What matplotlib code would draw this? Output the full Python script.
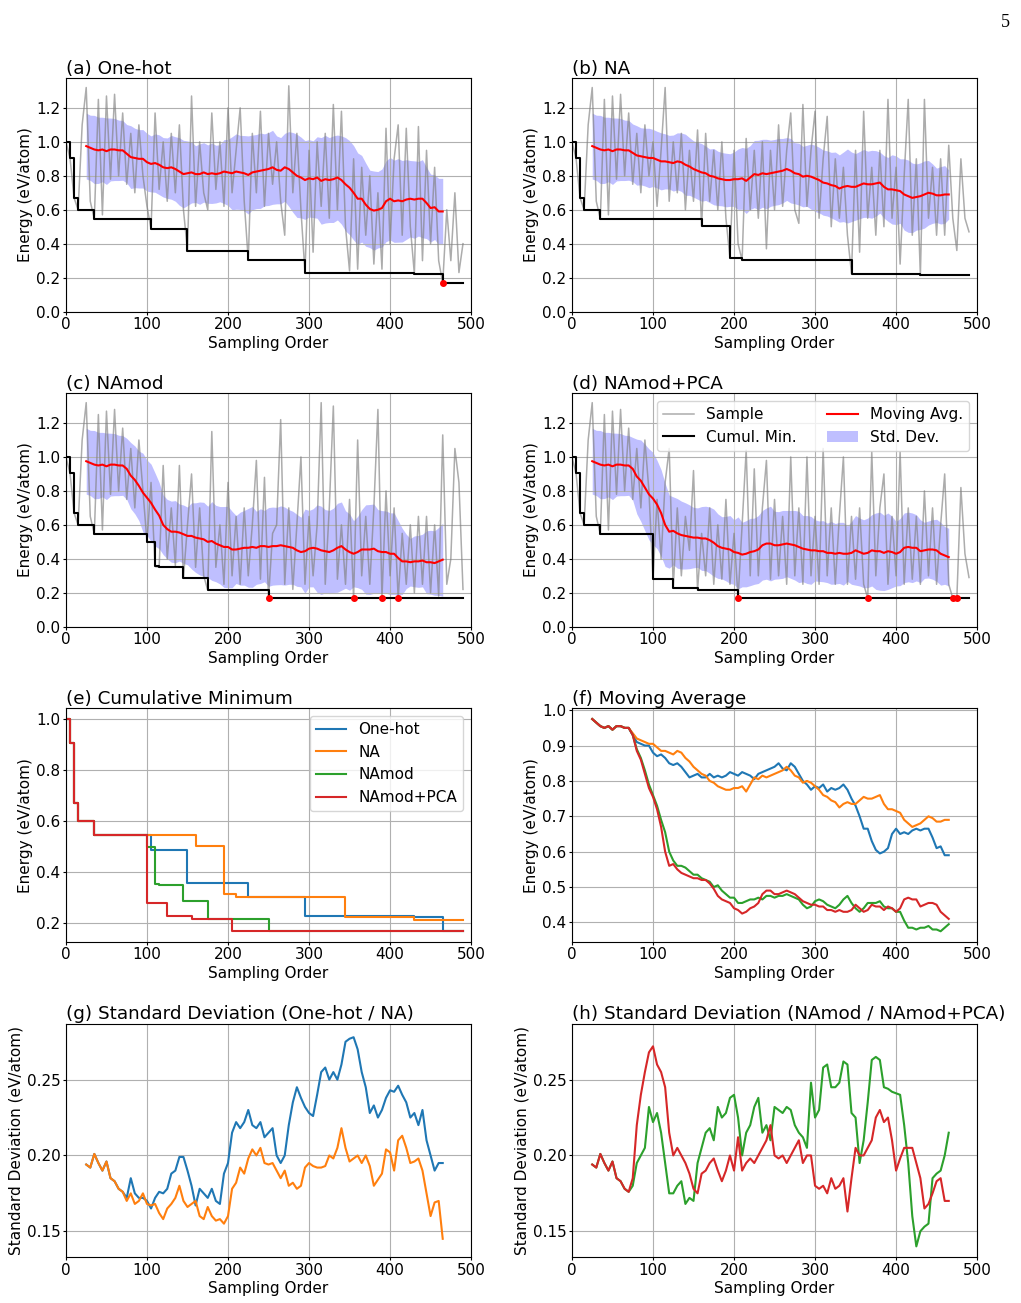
import numpy as np
import matplotlib.pyplot as plt

plt.rcParams['font.size'] = 11
plt.rcParams['xtick.major.size'] = 2
plt.rcParams['ytick.major.size'] = 2
plt.rcParams['xtick.major.pad'] = 2
plt.rcParams['ytick.major.pad'] = 2
plt.rcParams['axes.labelpad'] = 2.5
plt.rcParams['axes.titlepad'] = 3

methods = ['One-hot', 'NA', 'NAmod', 'NAmod+PCA']
colors = ['tab:blue', 'tab:orange', 'tab:green', 'tab:red']

# energies of the sampled structures, every 5th sample (eV/atom)
# the first 100 samples are the same initial design for every run
init_samples = [1.00, 0.905, 0.67, 0.60, 1.10, 1.32, 0.65, 0.545, 1.25, 0.57,
                1.27, 0.78, 1.28, 0.80, 1.17, 0.75, 1.05, 0.70, 1.10, 0.80]

samples_onehot = init_samples + [
    0.62, 0.487, 1.17, 0.72, 1.0, 0.65, 1.05, 0.70, 1.10, 0.60,
    0.358, 1.27, 0.62, 1.0, 0.70, 0.60, 1.17, 0.72, 1.0, 0.62,
    1.20, 0.70, 0.95, 1.20, 0.65, 0.302, 1.05, 0.70, 1.18, 0.62,
    1.05, 0.75, 1.0, 0.65, 0.45, 1.33, 0.70, 1.05, 0.60, 0.229,
    0.95, 0.35, 1.0, 0.62, 1.05, 0.55, 1.22, 0.60, 1.18, 0.50,
    0.24, 0.90, 0.25, 0.85, 0.45, 0.80, 0.28, 0.70, 0.25, 1.08,
    0.40, 0.90, 1.10, 0.45, 1.08, 0.50, 0.222, 1.09, 0.30, 0.95,
    0.40, 0.85, 0.30, 0.168, 0.60, 0.30, 0.70, 0.23, 0.40]

samples_na = init_samples + [
    1.0, 0.62, 0.95, 1.32, 0.65, 1.0, 0.70, 1.05, 0.60, 0.95,
    0.65, 1.07, 0.502, 1.05, 0.65, 0.95, 0.60, 1.0, 0.55, 0.315,
    0.95, 0.40, 0.302, 1.02, 0.60, 0.95, 0.55, 1.0, 0.37, 0.95,
    0.60, 1.10, 0.62, 0.95, 1.17, 0.60, 0.52, 1.22, 0.62, 0.95,
    1.18, 0.55, 0.90, 1.15, 0.50, 0.90, 0.55, 0.85, 0.45, 0.224,
    0.95, 0.35, 1.18, 0.55, 0.85, 0.45, 0.95, 0.50, 1.25, 0.55,
    0.85, 0.28, 0.80, 1.25, 0.45, 0.90, 0.213, 1.25, 0.55, 0.85,
    0.45, 0.90, 0.45, 0.98, 0.55, 0.36, 0.90, 0.55, 0.47]

samples_namod = init_samples + [
    0.50, 0.85, 0.355, 0.35, 0.95, 0.40, 0.70, 0.36, 0.95, 0.285,
    0.60, 0.90, 0.35, 0.70, 0.30, 0.215, 1.15, 0.35, 0.60, 0.25,
    0.85, 0.30, 0.65, 0.25, 0.70, 0.30, 0.60, 0.98, 0.28, 0.88,
    0.168, 0.55, 0.60, 1.22, 0.25, 0.70, 0.22, 0.60, 1.00, 0.25,
    0.65, 0.30, 0.60, 1.32, 0.25, 0.70, 1.30, 0.28, 0.60, 0.25,
    0.75, 0.168, 1.10, 0.30, 0.65, 0.25, 0.70, 1.28, 0.168, 0.80,
    0.30, 0.70, 0.168, 0.55, 0.25, 0.60, 0.20, 0.65, 0.25, 0.65,
    0.20, 0.60, 0.18, 1.13, 0.25, 0.40, 1.05, 0.85, 0.22]

samples_namod_pca = init_samples + [
    0.28, 0.75, 0.40, 0.85, 1.05, 0.228, 0.70, 0.30, 0.65, 0.45,
    0.92, 0.215, 0.55, 0.30, 0.70, 0.25, 0.60, 0.28, 0.75, 0.25,
    0.55, 0.168, 0.60, 1.04, 0.30, 0.93, 0.30, 0.70, 0.98, 0.28,
    0.75, 0.30, 0.65, 0.25, 1.00, 0.30, 0.70, 0.25, 1.00, 0.30,
    0.65, 0.25, 1.05, 0.30, 0.70, 0.25, 0.65, 1.00, 0.25, 0.65,
    0.28, 0.70, 0.25, 0.168, 1.03, 0.30, 0.70, 0.90, 0.25, 0.65,
    0.30, 1.03, 0.25, 0.70, 0.28, 0.65, 0.25, 0.80, 0.30, 0.70,
    0.25, 0.60, 0.90, 0.25, 0.168, 0.168, 0.82, 0.43, 0.29]

# 50-sample moving average, every 5th point from sample 25
ma_start = [0.975, 0.965, 0.955, 0.95, 0.955, 0.945, 0.955, 0.955, 0.95, 0.95]

ma_onehot = ma_start + [
    0.93, 0.91, 0.905, 0.90, 0.90, 0.88, 0.87, 0.875, 0.865, 0.85,
    0.845, 0.85, 0.84, 0.825, 0.81, 0.815, 0.82, 0.81, 0.81, 0.82,
    0.81, 0.815, 0.81, 0.815, 0.825, 0.82, 0.815, 0.825, 0.82, 0.815,
    0.805, 0.82, 0.825, 0.83, 0.835, 0.84, 0.85, 0.835, 0.83, 0.85,
    0.84, 0.82, 0.80, 0.79, 0.775, 0.785, 0.78, 0.79, 0.77, 0.78,
    0.775, 0.78, 0.79, 0.775, 0.75, 0.73, 0.70, 0.665, 0.665, 0.63,
    0.605, 0.595, 0.60, 0.61, 0.65, 0.665, 0.65, 0.655, 0.65, 0.66,
    0.665, 0.66, 0.665, 0.665, 0.64, 0.61, 0.615, 0.59, 0.59]

ma_na = ma_start + [
    0.935, 0.92, 0.915, 0.91, 0.905, 0.905, 0.895, 0.885, 0.885, 0.88,
    0.875, 0.885, 0.88, 0.865, 0.855, 0.84, 0.83, 0.82, 0.815, 0.80,
    0.795, 0.785, 0.78, 0.775, 0.775, 0.78, 0.78, 0.785, 0.77, 0.79,
    0.81, 0.805, 0.815, 0.81, 0.815, 0.82, 0.825, 0.83, 0.84, 0.83,
    0.815, 0.81, 0.795, 0.80, 0.795, 0.785, 0.775, 0.76, 0.755, 0.745,
    0.74, 0.725, 0.735, 0.74, 0.735, 0.735, 0.745, 0.755, 0.75, 0.75,
    0.755, 0.76, 0.735, 0.72, 0.72, 0.715, 0.71, 0.69, 0.68, 0.67,
    0.675, 0.68, 0.69, 0.70, 0.695, 0.685, 0.685, 0.69, 0.69]

ma_namod = ma_start + [
    0.93, 0.89, 0.865, 0.83, 0.79, 0.76, 0.73, 0.69, 0.655, 0.60,
    0.575, 0.56, 0.56, 0.555, 0.545, 0.535, 0.535, 0.525, 0.52, 0.515,
    0.50, 0.505, 0.49, 0.48, 0.47, 0.47, 0.455, 0.455, 0.46, 0.465,
    0.465, 0.47, 0.465, 0.475, 0.475, 0.47, 0.475, 0.475, 0.48, 0.475,
    0.47, 0.465, 0.45, 0.44, 0.445, 0.46, 0.465, 0.46, 0.45, 0.445,
    0.44, 0.45, 0.465, 0.475, 0.455, 0.44, 0.43, 0.44, 0.455, 0.455,
    0.455, 0.46, 0.445, 0.44, 0.44, 0.43, 0.43, 0.405, 0.385, 0.385,
    0.38, 0.385, 0.385, 0.39, 0.38, 0.38, 0.375, 0.385, 0.395]

ma_namod_pca = ma_start + [
    0.93, 0.885, 0.86, 0.82, 0.78, 0.755, 0.72, 0.67, 0.60, 0.56,
    0.565, 0.55, 0.54, 0.535, 0.53, 0.525, 0.525, 0.52, 0.52, 0.51,
    0.495, 0.475, 0.465, 0.46, 0.455, 0.44, 0.435, 0.425, 0.43, 0.44,
    0.445, 0.455, 0.48, 0.49, 0.49, 0.48, 0.48, 0.485, 0.49, 0.485,
    0.48, 0.47, 0.46, 0.455, 0.45, 0.45, 0.445, 0.445, 0.435, 0.435,
    0.43, 0.435, 0.43, 0.43, 0.435, 0.45, 0.44, 0.43, 0.435, 0.45,
    0.445, 0.445, 0.435, 0.445, 0.44, 0.43, 0.44, 0.465, 0.47, 0.465,
    0.465, 0.445, 0.45, 0.455, 0.455, 0.45, 0.43, 0.42, 0.41]

# 50-sample moving standard deviation, same points
sd_start = [0.194, 0.192, 0.201, 0.195, 0.19, 0.196, 0.185, 0.183, 0.178, 0.176]

sd_onehot = sd_start + [
    0.172, 0.185, 0.175, 0.172, 0.172, 0.17, 0.165, 0.172, 0.176, 0.175,
    0.178, 0.188, 0.19, 0.199, 0.199, 0.19, 0.18, 0.167, 0.178, 0.175,
    0.172, 0.178, 0.17, 0.168, 0.188, 0.195, 0.215, 0.222, 0.218, 0.222,
    0.23, 0.22, 0.218, 0.222, 0.212, 0.215, 0.218, 0.20, 0.195, 0.20,
    0.22, 0.235, 0.245, 0.238, 0.232, 0.228, 0.226, 0.24, 0.255, 0.258,
    0.25, 0.255, 0.25, 0.26, 0.275, 0.277, 0.278, 0.27, 0.255, 0.245,
    0.228, 0.233, 0.225, 0.23, 0.238, 0.243, 0.242, 0.246, 0.24, 0.235,
    0.225, 0.228, 0.22, 0.23, 0.21, 0.20, 0.19, 0.195, 0.195]

sd_na = sd_start + [
    0.17, 0.175, 0.168, 0.17, 0.175, 0.168, 0.167, 0.168, 0.162, 0.158,
    0.165, 0.168, 0.172, 0.18, 0.17, 0.166, 0.168, 0.17, 0.16, 0.158,
    0.166, 0.16, 0.157, 0.158, 0.155, 0.16, 0.178, 0.182, 0.192, 0.188,
    0.198, 0.204, 0.20, 0.205, 0.195, 0.194, 0.195, 0.19, 0.185, 0.19,
    0.18, 0.182, 0.178, 0.18, 0.192, 0.195, 0.193, 0.192, 0.192, 0.193,
    0.20, 0.198, 0.205, 0.218, 0.205, 0.196, 0.198, 0.20, 0.195, 0.20,
    0.193, 0.18, 0.184, 0.188, 0.204, 0.202, 0.19, 0.21, 0.213, 0.205,
    0.195, 0.196, 0.198, 0.19, 0.175, 0.16, 0.169, 0.17, 0.145]

sd_namod = sd_start + [
    0.18, 0.195, 0.20, 0.205, 0.232, 0.222, 0.228, 0.215, 0.195, 0.175,
    0.175, 0.18, 0.183, 0.168, 0.172, 0.17, 0.195, 0.205, 0.215, 0.218,
    0.21, 0.232, 0.225, 0.228, 0.238, 0.24, 0.225, 0.20, 0.215, 0.22,
    0.232, 0.238, 0.215, 0.22, 0.21, 0.232, 0.23, 0.228, 0.232, 0.23,
    0.22, 0.215, 0.212, 0.205, 0.248, 0.225, 0.23, 0.258, 0.26, 0.245,
    0.245, 0.248, 0.262, 0.26, 0.228, 0.225, 0.195, 0.21, 0.235, 0.263,
    0.265, 0.263, 0.245, 0.244, 0.242, 0.241, 0.24, 0.22, 0.195, 0.16,
    0.14, 0.15, 0.153, 0.155, 0.185, 0.188, 0.19, 0.20, 0.215]

sd_namod_pca = sd_start + [
    0.185, 0.22, 0.24, 0.255, 0.268, 0.272, 0.26, 0.255, 0.245, 0.215,
    0.20, 0.205, 0.20, 0.195, 0.188, 0.178, 0.175, 0.188, 0.19, 0.195,
    0.198, 0.19, 0.183, 0.19, 0.20, 0.19, 0.212, 0.19, 0.195, 0.198,
    0.195, 0.20, 0.205, 0.21, 0.22, 0.20, 0.198, 0.20, 0.195, 0.20,
    0.205, 0.21, 0.195, 0.20, 0.20, 0.18, 0.178, 0.18, 0.175, 0.185,
    0.178, 0.18, 0.185, 0.163, 0.185, 0.205, 0.20, 0.20, 0.205, 0.21,
    0.225, 0.23, 0.222, 0.225, 0.21, 0.19, 0.198, 0.205, 0.205, 0.205,
    0.195, 0.185, 0.165, 0.168, 0.175, 0.183, 0.185, 0.17, 0.17]

samples = [samples_onehot, samples_na, samples_namod, samples_namod_pca]
mov_avg = [ma_onehot, ma_na, ma_namod, ma_namod_pca]
mov_std = [sd_onehot, sd_na, sd_namod, sd_namod_pca]
letters = ['a', 'b', 'c', 'd']

global_min = min(min(s) for s in samples)

fig, axes = plt.subplots(4, 2, figsize=(10.21, 13.03), dpi=100)
fig.subplots_adjust(left=0.0646, right=0.957, bottom=0.0353, top=0.940,
                    wspace=0.249, hspace=0.35)
axes = axes.flatten()

for i in range(4):
    ax = axes[i]
    s = np.array(samples[i])
    x = 5 * np.arange(len(s))
    ma = np.array(mov_avg[i])
    sd = np.array(mov_std[i])
    xm = 25 + 5 * np.arange(len(ma))

    band = ax.fill_between(xm, ma - sd, ma + sd, color='blue', alpha=0.25,
                           lw=0, label='Std. Dev.')
    l1, = ax.plot(x, s, color='gray', alpha=0.65, lw=1.1, label='Sample')
    l2, = ax.plot(x, np.minimum.accumulate(s), color='black', lw=1.5,
                  drawstyle='steps-post', label='Cumul. Min.')
    l3, = ax.plot(xm, ma, color='red', lw=1.5, label='Moving Avg.')
    hit = s <= global_min + 1e-6
    ax.plot(x[hit], s[hit], 'o', color='red', ms=4, zorder=5)

    ax.set_title('(%s) %s' % (letters[i], methods[i]), loc='left')
    ax.set_xlim(0, 500)
    ax.set_ylim(0, 1.375)
    ax.set_yticks([0, 0.2, 0.4, 0.6, 0.8, 1.0, 1.2])
    ax.set_xlabel('Sampling Order')
    ax.set_ylabel('Energy (eV/atom)')
    ax.grid(True)
    if i == 3:
        ax.legend([l1, l2, l3, band],
                  ['Sample', 'Cumul. Min.', 'Moving Avg.', 'Std. Dev.'],
                  ncol=2, loc='upper right')

# (e) cumulative minimum
ax = axes[4]
for s, name, c in zip(samples, methods, colors):
    s = np.array(s)
    ax.plot(5 * np.arange(len(s)), np.minimum.accumulate(s), color=c,
            lw=1.5, drawstyle='steps-post', label=name)
ax.set_title('(e) Cumulative Minimum', loc='left')
ax.set_xlim(0, 500)
ax.set_xlabel('Sampling Order')
ax.set_ylabel('Energy (eV/atom)')
ax.grid(True)
ax.legend(loc='upper right')

# (f) moving average
ax = axes[5]
for ma, c in zip(mov_avg, colors):
    ax.plot(25 + 5 * np.arange(len(ma)), ma, color=c, lw=1.5)
ax.set_title('(f) Moving Average', loc='left')
ax.set_xlim(0, 500)
ax.set_xlabel('Sampling Order')
ax.set_ylabel('Energy (eV/atom)')
ax.grid(True)

# (g), (h) standard deviation
for ax, idx, title in [(axes[6], [0, 1], '(g) Standard Deviation (One-hot / NA)'),
                       (axes[7], [2, 3], '(h) Standard Deviation (NAmod / NAmod+PCA)')]:
    for j in idx:
        sd = mov_std[j]
        ax.plot(25 + 5 * np.arange(len(sd)), sd, color=colors[j], lw=1.5)
    ax.set_title(title, loc='left')
    ax.set_xlim(0, 500)
    ax.set_ylim(0.133, 0.287)
    ax.set_yticks([0.15, 0.20, 0.25])
    ax.set_xlabel('Sampling Order')
    ax.set_ylabel('Standard Deviation (eV/atom)')
    ax.grid(True)

fig.text(0.9895, 0.9895, '5', family='Liberation Serif', fontsize=13,
         ha='right', va='top')

fig.savefig('out.png', dpi=100)
